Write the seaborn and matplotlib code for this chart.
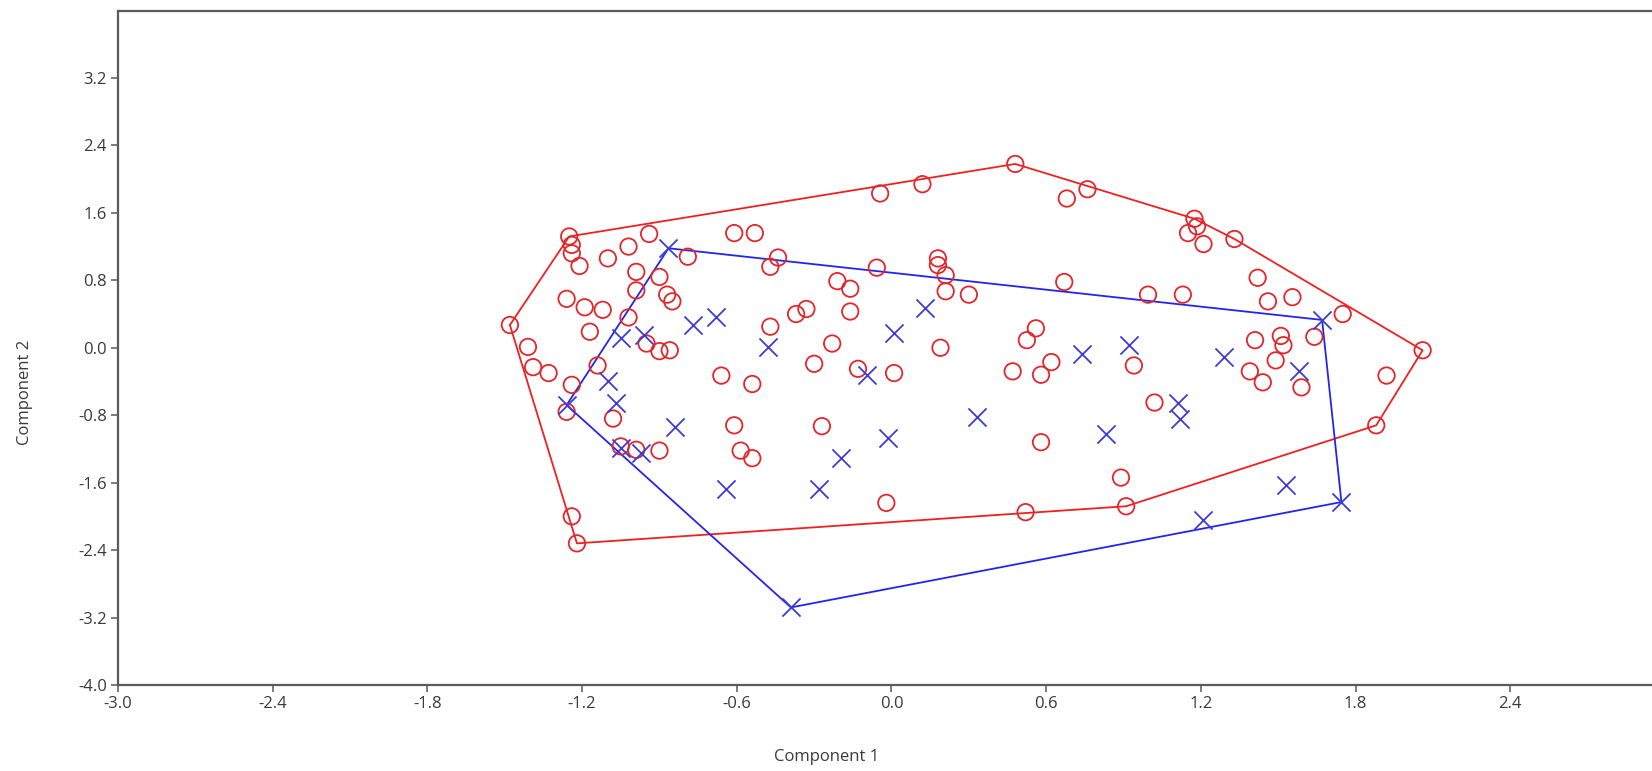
import numpy as np
import pandas as pd
import matplotlib
matplotlib.use('Agg')
import matplotlib.pyplot as plt
import seaborn as sns

# group 1 (red circles)
red_x = [-1.48, -1.41, -1.39, -1.33, -1.25, -1.24, -1.24, -1.21, -1.10, -1.02,
         -0.94, -0.79, -0.61, -0.53, -0.99, -0.99, -0.90, -0.87, -0.85, -1.26,
         -1.19, -1.12, -1.17, -1.02, -0.95, -0.90, -0.86, -1.24, -1.14, -0.66,
         -0.044, 0.12, -0.47, -0.44, -0.057, 0.18, 0.18, 0.21, 0.21, 0.30,
         -0.21, -0.16, -0.16, -0.33, -0.37, -0.47, -0.23, -0.30, -0.13, 0.01,
         0.19, -0.54, 0.48, 0.68, 0.76, 1.175, 1.185, 1.15, 1.21, 0.67,
         0.995, 1.13, 0.56, 0.525, 0.62, 0.58, 0.47, 0.94, 1.33, 1.42,
         1.46, 1.555, 1.75, 2.06, 1.41, 1.51, 1.52, 1.49, 1.64, 1.39,
         1.44, 1.59, 1.92, -1.26, -1.08, -1.05, -0.99, -0.90, -0.61, -0.585,
         -0.54, -1.24, -1.22, -0.27, -0.02, 1.02, 0.58, 0.89, 0.52, 0.91,
         1.88]
red_y = [0.27, 0.01, -0.23, -0.30, 1.32, 1.22, 1.12, 0.97, 1.06, 1.20,
         1.35, 1.08, 1.36, 1.36, 0.90, 0.68, 0.84, 0.63, 0.55, 0.58,
         0.48, 0.45, 0.19, 0.36, 0.05, -0.04, -0.03, -0.44, -0.21, -0.33,
         1.83, 1.94, 0.96, 1.07, 0.95, 1.06, 0.98, 0.86, 0.67, 0.63,
         0.79, 0.70, 0.43, 0.46, 0.40, 0.25, 0.05, -0.19, -0.25, -0.30,
         0.00, -0.43, 2.18, 1.77, 1.88, 1.53, 1.44, 1.36, 1.23, 0.78,
         0.63, 0.63, 0.23, 0.09, -0.17, -0.32, -0.28, -0.21, 1.29, 0.83,
         0.55, 0.60, 0.40, -0.03, 0.09, 0.14, 0.03, -0.15, 0.13, -0.28,
         -0.41, -0.47, -0.33, -0.76, -0.84, -1.17, -1.21, -1.22, -0.92, -1.22,
         -1.31, -2.00, -2.32, -0.93, -1.84, -0.65, -1.12, -1.54, -1.95, -1.88,
         -0.92]

# group 2 (blue crosses)
blue_x = [-0.865, -1.05, -0.96, -0.77, -0.68, -1.10, -0.48, 0.01, 0.13, -0.095,
          0.74, 0.92, 1.67, 1.29, 1.58, -1.26, -1.07, -0.84, -1.05, -0.97,
          -0.64, -0.015, -0.195, -0.28, -0.39, 0.33, 0.83, 1.11, 1.12, 1.21,
          1.53, 1.745]
blue_y = [1.18, 0.11, 0.15, 0.27, 0.37, -0.40, 0.01, 0.18, 0.47, -0.32,
          -0.07, 0.03, 0.33, -0.11, -0.28, -0.68, -0.66, -0.94, -1.19, -1.25,
          -1.67, -1.07, -1.31, -1.68, -3.08, -0.82, -1.02, -0.66, -0.84, -2.04,
          -1.63, -1.83]

x_ticks = [-3.0, -2.4, -1.8, -1.2, -0.6, 0.0, 0.6, 1.2, 1.8, 2.4]
y_ticks = [-4.0, -3.2, -2.4, -1.6, -0.8, 0.0, 0.8, 1.6, 2.4, 3.2]


def convex_hull(xs, ys):
    # monotone chain, returns closed polygon
    pts = sorted(set(zip(xs, ys)))

    def cross(o, a, b):
        return (a[0] - o[0]) * (b[1] - o[1]) - (a[1] - o[1]) * (b[0] - o[0])

    lower = []
    for p in pts:
        while len(lower) >= 2 and cross(lower[-2], lower[-1], p) <= 0:
            lower.pop()
        lower.append(p)
    upper = []
    for p in reversed(pts):
        while len(upper) >= 2 and cross(upper[-2], upper[-1], p) <= 0:
            upper.pop()
        upper.append(p)
    hull = lower[:-1] + upper[:-1]
    hull.append(hull[0])
    return [p[0] for p in hull], [p[1] for p in hull]


sns.set_theme(style='white')
plt.rcParams['font.family'] = ['Open Sans', 'DejaVu Sans']
plt.rcParams['axes.unicode_minus'] = False

red_col = '#e3262b'
blue_col = '#3b3bd8'

df_red = pd.DataFrame({'x': red_x, 'y': red_y})
df_blue = pd.DataFrame({'x': blue_x, 'y': blue_y})

fig = plt.figure(figsize=(16.52, 7.71), dpi=100)
ax = fig.add_axes([118 / 1652, 86 / 771, 1547 / 1652, 674.5 / 771])

hx, hy = convex_hull(red_x, red_y)
ax.plot(hx, hy, color='#ee2020', lw=1.3, zorder=2)
hx, hy = convex_hull(blue_x, blue_y)
ax.plot(hx, hy, color='#2424ee', lw=1.3, zorder=2)

sns.scatterplot(data=df_red, x='x', y='y', ax=ax, marker='o', s=140,
                facecolor='none', edgecolor=red_col, linewidth=1.3, zorder=3)
sns.scatterplot(data=df_blue, x='x', y='y', ax=ax, marker='x', s=170,
                color=blue_col, linewidth=1.3, zorder=3)

ax.set_xlim(-3.0, 3.0)
ax.set_ylim(-4.0, 4.0)
ax.set_xticks(x_ticks)
ax.set_yticks(y_ticks)
ax.set_xticklabels([f'{v:.1f}' for v in x_ticks])
ax.set_yticklabels([f'{v:.1f}' for v in y_ticks])

for s in ['left', 'bottom', 'top', 'right']:
    ax.spines[s].set_color('#5a5a5a')
    ax.spines[s].set_linewidth(1.6)
ax.tick_params(axis='both', direction='out', length=5, width=1.1,
               color='#5a5a5a', labelsize=12, labelcolor='#3a3a3a', pad=3,
               bottom=True, left=True)

ax.set_xlabel('Component 1', fontsize=12, color='#3a3a3a')
ax.set_ylabel('Component 2', fontsize=12, color='#3a3a3a')
ax.xaxis.set_label_coords(0.458, -0.095)
ax.yaxis.set_label_coords(-0.055, 0.434)

fig.savefig('out.png', dpi=100)
